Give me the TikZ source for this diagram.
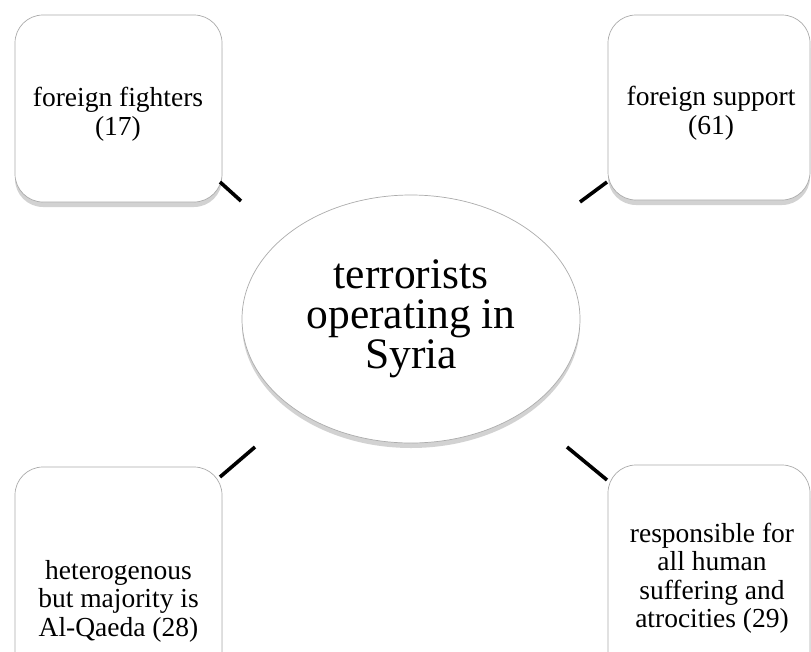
\documentclass[tikz,border=0pt]{standalone}
\usepackage{fontspec}
\setmainfont{Liberation Serif}
\usetikzlibrary{shapes.geometric,shadows}
\tikzset{
  boxnode/.style={draw=gray!65, fill=white, line width=0.7pt, rounded corners=28pt,
    drop shadow={shadow xshift=0pt, shadow yshift=-5pt, opacity=0.35, fill=gray}},
  boxtext/.style={align=center, inner sep=0pt, font=\fontsize{27.5}{28.5}\selectfont},
  hubnode/.style={ellipse, draw=gray!65, fill=white, line width=0.7pt, inner sep=0pt,
    align=center, font=\fontsize{43.5}{40}\selectfont,
    drop shadow={shadow xshift=0pt, shadow yshift=-5pt, opacity=0.35, fill=gray}},
  link/.style={line width=3.6pt, black}
}
\begin{document}
\begin{tikzpicture}[x=1pt,y=-1pt]
\useasboundingbox (0,0) rectangle (811,651);
\clip (0,0) rectangle (811,651);
\fill[white] (0,0) rectangle (811,651);
\node[boxnode, minimum width=207pt, minimum height=187pt] (tl) at (118.5,108.5) {};
\node[boxtext] (tlt) at (118,114) {foreign fighters\\(17)};
\node[boxnode, minimum width=202pt, minimum height=185pt] (tr) at (709,107.5) {};
\node[boxtext] (trt) at (711,113) {foreign support\\(61)};
\node[boxnode, minimum width=207pt, minimum height=268pt] (bl) at (118.5,601) {};
\node[boxtext] (blt) at (118.5,601) {heterogenous\\but majority is\\Al-Qaeda (28)};
\node[boxnode, minimum width=202pt, minimum height=228pt] (br) at (709,579) {};
\node[boxtext] (brt) at (712,578) {responsible for\\all human\\suffering and\\atrocities (29)};
\node[hubnode, minimum width=338pt, minimum height=248pt] (c) at (411,319)
  {terrorists\\operating in\\Syria};
\coordinate (tla) at (220,182);
\coordinate (tlb) at (241,201);
\coordinate (tra) at (607,182);
\coordinate (trb) at (580,202);
\coordinate (bla) at (220,477);
\coordinate (blb) at (255,447);
\coordinate (bra) at (567,447);
\coordinate (brb) at (607,480);
\draw[link] (tla) -- (tlb);
\draw[link] (tra) -- (trb);
\draw[link] (bla) -- (blb);
\draw[link] (bra) -- (brb);
\end{tikzpicture}
\end{document}
